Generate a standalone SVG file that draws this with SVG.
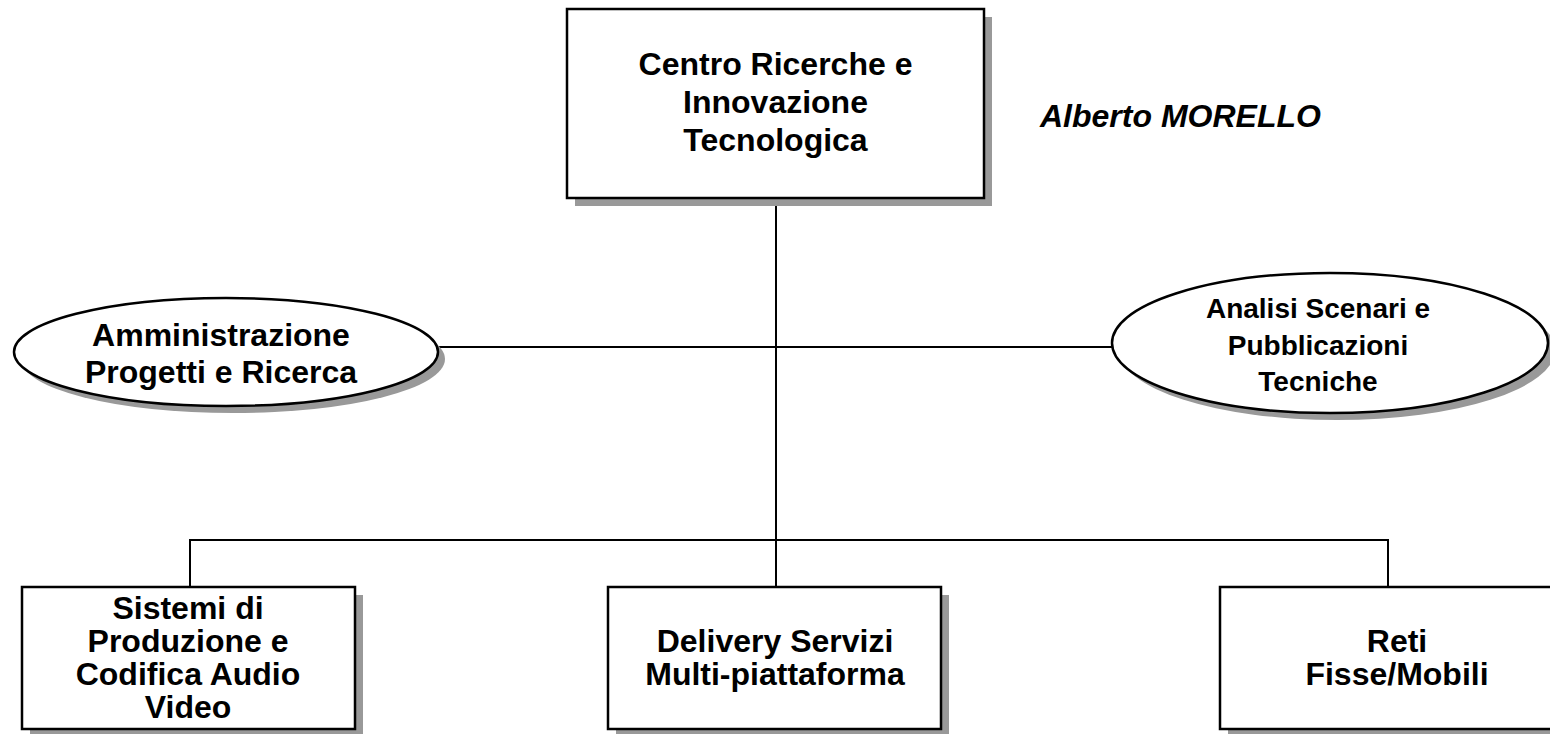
<svg xmlns="http://www.w3.org/2000/svg" width="1550" height="734" viewBox="0 0 1550 734">
<style>
.sh{fill:#999999;stroke:none}
.bx{fill:#ffffff;stroke:#000000;stroke-width:2.5}
.t{font-family:"Liberation Sans",Arial,sans-serif;font-weight:bold;font-size:32px;fill:#000000;text-anchor:middle}
.s{font-size:28px}
.it{font-family:"Liberation Sans",Arial,sans-serif;font-weight:bold;font-style:italic;font-size:32px;fill:#000000}
.cn{stroke:#000000;stroke-width:2;fill:none}
</style>
<rect x="0" y="0" width="1550" height="734" fill="#ffffff"/>
<g id="connectors">
<line class="cn" x1="776" y1="198" x2="776" y2="587"/>
<line class="cn" x1="438" y1="347" x2="1112" y2="347"/>
<polyline class="cn" points="190,587 190,540 1388,540 1388,587"/>
</g>
<g id="centro">
<rect class="sh" x="575" y="17" width="417" height="189"/>
<rect class="bx" x="567" y="9" width="417" height="189"/>
<text class="t" x="775.5" y="75">Centro Ricerche e</text>
<text class="t" x="775.5" y="113">Innovazione</text>
<text class="t" x="775.5" y="151">Tecnologica</text>
</g>
<g id="responsabile">
<text class="it" x="1040" y="127">Alberto MORELLO</text>
</g>
<g id="amministrazione">
<ellipse class="sh" cx="233" cy="359" rx="212" ry="54"/>
<ellipse class="bx" cx="226" cy="352" rx="212" ry="54"/>
<text class="t" x="221" y="346">Amministrazione</text>
<text class="t" x="221" y="383">Progetti e Ricerca</text>
</g>
<g id="analisi">
<ellipse class="sh" cx="1337" cy="350" rx="218" ry="70"/>
<ellipse class="bx" cx="1330" cy="343" rx="218" ry="70"/>
<text class="t s" x="1318" y="318">Analisi Scenari e</text>
<text class="t s" x="1318" y="355">Pubblicazioni</text>
<text class="t s" x="1318" y="391">Tecniche</text>
</g>
<g id="sistemi">
<rect class="sh" x="30" y="595" width="333" height="142"/>
<rect class="bx" x="22" y="587" width="333" height="142"/>
<text class="t" x="188" y="619">Sistemi di</text>
<text class="t" x="188" y="652">Produzione e</text>
<text class="t" x="188" y="685">Codifica Audio</text>
<text class="t" x="188" y="718">Video</text>
</g>
<g id="delivery">
<rect class="sh" x="616" y="595" width="333" height="142"/>
<rect class="bx" x="608" y="587" width="333" height="142"/>
<text class="t" x="775" y="652">Delivery Servizi</text>
<text class="t" x="775" y="685">Multi-piattaforma</text>
</g>
<g id="reti">
<rect class="sh" x="1228" y="595" width="354" height="142"/>
<rect class="bx" x="1220" y="587" width="354" height="142"/>
<text class="t" x="1397" y="652">Reti</text>
<text class="t" x="1397" y="685">Fisse/Mobili</text>
</g>
</svg>
